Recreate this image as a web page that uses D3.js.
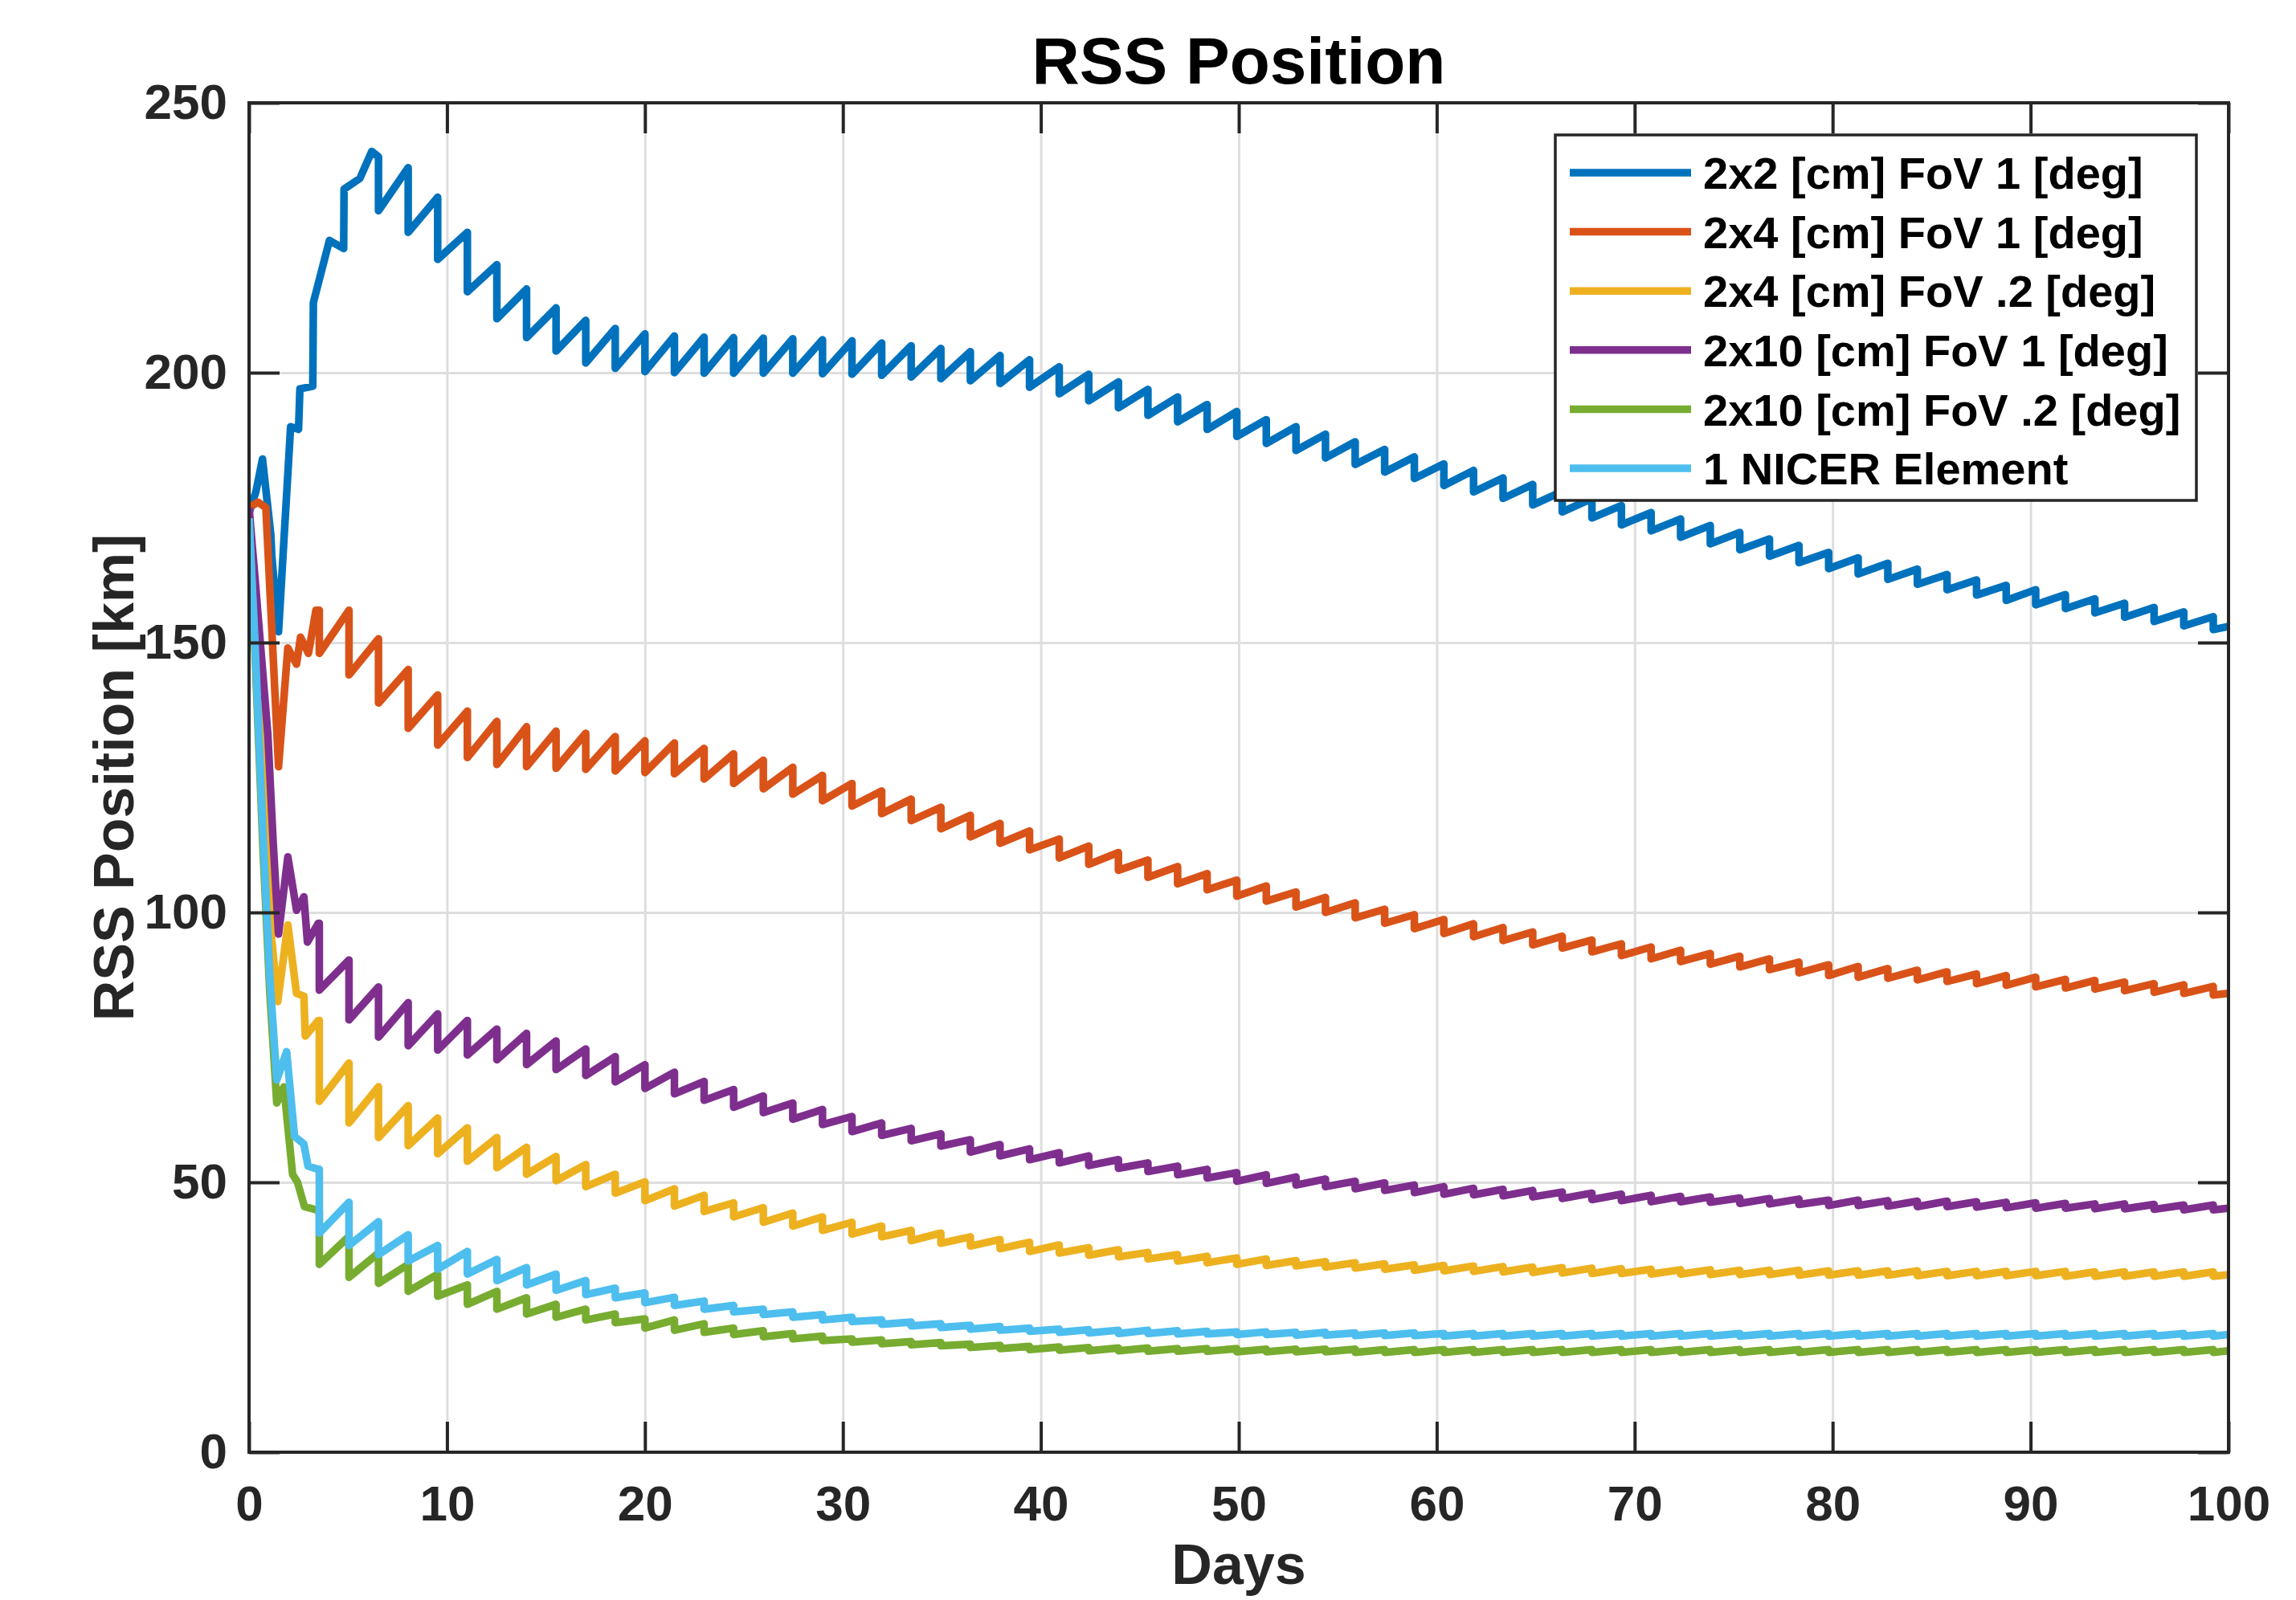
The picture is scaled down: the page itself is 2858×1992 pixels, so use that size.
<!DOCTYPE html>
<html>
<head>
<meta charset="utf-8">
<script src="https://cdn.jsdelivr.net/npm/d3@7"></script>
<style>
  body { margin: 0; background: #fff; }
  svg { display: block; font-family: "Liberation Sans", Arial, Helvetica, sans-serif; font-weight: bold; }
</style>
</head>
<body>
<svg id="chart" width="2858" height="1992"></svg>
<script>
// days at which every filter gets its measurement update (the vertical jumps)
const updateDays = [3.55, 5.05, 6.54, 8.04, 9.53, 11.03, 12.52, 14.02, 15.51, 17.01, 18.50, 20.00,
  21.49, 22.99, 24.48, 25.98, 27.47, 28.97, 30.46, 31.96, 33.45, 34.95, 36.44, 37.94, 39.43, 40.93,
  42.42, 43.92, 45.41, 46.91, 48.40, 49.90, 51.39, 52.89, 54.38, 55.88, 57.37, 58.87, 60.36, 61.86,
  63.35, 64.85, 66.34, 67.84, 69.33, 70.83, 72.32, 73.82, 75.31, 76.81, 78.30, 79.80, 81.29, 82.79,
  84.28, 85.78, 87.27, 88.77, 90.26, 91.76, 93.25, 94.75, 96.24, 97.74, 99.23];

const seriesNames = ["2x2 [cm] FoV 1 [deg]", "2x4 [cm] FoV 1 [deg]", "2x4 [cm] FoV .2 [deg]",
  "2x10 [cm] FoV 1 [deg]", "2x10 [cm] FoV .2 [deg]", "1 NICER Element"];
const seriesColors = ["#0072BD", "#D95319", "#EDB120", "#7E2F8E", "#77AC30", "#4DBEEE"];

const xTicks = [0, 10, 20, 30, 40, 50, 60, 70, 80, 90, 100];
const yTicks = [0, 50, 100, 150, 200, 250];

// 2x2 FoV 1
const blueEarly = [[0,174],[0.35,178],[0.68,184],[1.1,170],[1.15,166],[1.49,152],[2.1,190],[2.5,189.5],
  [2.57,197],[3.22,197.5],[3.25,213],[4.06,224.5],[4.78,223],[4.8,234],[5.6,236],[6.2,241]];
const bluePre = [null, null, 240, 238, 232.5, 226, 220, 215.5, 212, 209.7, 208.2, 207.2,
  206.8, 206.6, 206.5, 206.4, 206.3, 206.1, 205.9, 205.5, 205, 204.5, 203.9, 203.2, 202.4, 201.1,
  199.7, 198.3, 196.9, 195.5, 194.1, 192.8, 191.3, 190, 188.6, 187.2, 185.8, 184.4, 183.1, 181.9,
  180.5, 179.3, 178, 176.7, 175.4, 174.1, 172.9, 171.7, 170.4, 169.2, 168, 166.7, 165.7, 164.7,
  163.6, 162.6, 161.6, 160.6, 159.8, 158.9, 158.1, 157.3, 156.5, 155.7, 154.8];
const bluePost = [null, null, 230, 226, 221, 215, 210, 206.5, 204, 201.8, 200.8, 200.2,
  200, 199.9, 199.9, 199.9, 199.9, 199.8, 199.7, 199.5, 199.2, 198.9, 198.5, 198, 197.3, 196.1,
  194.8, 193.5, 192.1, 190.9, 189.5, 188.2, 186.9, 185.6, 184.2, 183, 181.6, 180.4, 179.1, 177.9,
  176.7, 175.5, 174.2, 173.1, 171.8, 170.7, 169.5, 168.3, 167.2, 166, 164.8, 163.7, 162.7, 161.7,
  160.8, 159.8, 158.8, 157.8, 157, 156.3, 155.5, 154.7, 153.9, 153.1, 152.4];
const blueEnd = 153;

// 2x4 FoV 1
const orangeEarly = [[0,175],[0.45,176],[0.85,175],[1.49,127],[1.96,149],[2.4,146],[2.6,151],[3.0,148],[3.38,156]];
const orangePre = [156, 156, 150.7, 145, 140.3, 137.3, 135.4, 134.4, 133.6, 133.2, 132.6, 131.8,
  131.4, 130.4, 129.4, 128.2, 126.9, 125.4, 123.9, 122.5, 121, 119.5, 118, 116.5, 115.1, 113.6,
  112.3, 111.1, 109.7, 108.5, 107.2, 106, 104.9, 103.8, 102.8, 101.8, 100.6, 99.6, 98.7, 97.9,
  97.2, 96.4, 95.6, 94.9, 94.2, 93.6, 93, 92.4, 91.9, 91.4, 90.8, 90.3, 90, 89.6,
  89.3, 89, 88.6, 88.3, 88, 87.6, 87.4, 87.1, 86.8, 86.6, 86.3];
const orangePost = [148, 144, 138.8, 134.1, 131, 128.7, 127.4, 127, 126.7, 126.5, 126.2, 125.9,
  125.7, 124.7, 123.9, 122.9, 121.9, 120.7, 119.7, 118.3, 117, 115.5, 114, 112.8, 111.6, 110.1,
  108.9, 107.8, 106.5, 105.3, 104.2, 103, 102.1, 101, 100, 99, 98, 97, 96.1, 95.5,
  94.8, 94, 93.4, 92.7, 92, 91.4, 90.9, 90.4, 89.9, 89.4, 88.8, 88.3, 88, 87.8,
  87.5, 87.2, 86.8, 86.5, 86.2, 86, 85.8, 85.5, 85.2, 85, 84.7];
const orangeEnd = 85;

// 2x4 FoV .2
const yellowEarly = [[0,175],[0.35,150],[0.8,118],[1.15,95],[1.45,83.5],[1.96,97.7],[2.4,85],[2.77,84.5],[2.84,77.1],[3.5,80]];
const yellowPre = [80, 72.1, 67.7, 64.2, 61.9, 60.1, 58.3, 56.5, 54.8, 53.3, 51.5, 50.1,
  48.8, 47.6, 46.2, 45.3, 44.3, 43.6, 42.6, 41.9, 41.1, 40.6, 39.9, 39.4, 38.9, 38.4,
  37.9, 37.5, 37, 36.6, 36.3, 36, 35.8, 35.5, 35.3, 35.1, 34.9, 34.7, 34.6, 34.5,
  34.4, 34.3, 34.2, 34.1, 34, 33.9, 33.8, 33.8, 33.7, 33.7, 33.7, 33.6, 33.6, 33.6,
  33.6, 33.5, 33.5, 33.5, 33.5, 33.5, 33.4, 33.4, 33.4, 33.4, 33.4];
const yellowPost = [65, 61, 58.3, 56.8, 55.3, 53.9, 52.7, 51.5, 50.3, 49.2, 48, 46.6,
  45.6, 44.6, 43.6, 42.6, 41.9, 41.1, 40.4, 39.9, 39.2, 38.7, 38.2, 37.7, 37.2, 36.9,
  36.5, 36.2, 35.8, 35.4, 35.1, 34.8, 34.6, 34.5, 34.3, 34.1, 33.9, 33.7, 33.6, 33.5,
  33.4, 33.3, 33.2, 33.1, 33.1, 33, 33, 32.9, 32.9, 32.9, 32.8, 32.8, 32.8, 32.8,
  32.7, 32.7, 32.7, 32.7, 32.7, 32.6, 32.6, 32.6, 32.6, 32.6, 32.6];
const yellowEnd = 32.9;

// 2x10 FoV 1
const purpleEarly = [[0,175],[0.3,162],[0.95,133],[1.22,113],[1.49,96],[1.96,110.3],[2.4,100.4],[2.77,102.9],[2.95,94.5],[3.5,98]];
const purplePre = [98, 91.2, 86.2, 83.3, 81.2, 80, 78.4, 77.6, 76.2, 74.7, 73.3, 71.8,
  70.4, 68.7, 67.2, 66, 64.7, 63.5, 62.2, 61, 60, 59, 57.9, 57, 56.2, 55.5,
  54.9, 54.2, 53.6, 53, 52.4, 51.8, 51.4, 51, 50.6, 50.2, 49.9, 49.5, 49.2, 48.9,
  48.7, 48.5, 48.2, 48, 47.8, 47.6, 47.4, 47.3, 47.1, 47, 46.9, 46.7, 46.7, 46.6,
  46.5, 46.5, 46.4, 46.3, 46.2, 46.1, 46, 46, 45.9, 45.8, 45.8];
const purplePost = [85.6, 80.1, 76.9, 75.3, 74.5, 73.6, 72.7, 71.8, 70.9, 69.8, 68.6, 67.4,
  66.4, 65.2, 63.9, 62.9, 61.7, 60.7, 59.4, 58.7, 57.7, 56.7, 55.6, 54.9, 54.2, 53.6,
  53.1, 52.6, 52, 51.4, 50.8, 50.2, 49.8, 49.5, 49.2, 48.8, 48.5, 48.1, 47.8, 47.7,
  47.5, 47.3, 47, 46.8, 46.6, 46.4, 46.4, 46.3, 46.1, 46, 45.9, 45.7, 45.7, 45.6,
  45.5, 45.5, 45.4, 45.3, 45.2, 45.2, 45.1, 45.1, 45, 44.9, 44.9];
const purpleEnd = 45.2;

// 2x10 FoV .2
const greenEarly = [[0,173],[0.3,148],[0.7,112],[1.05,85],[1.4,64.7],[1.76,67.7],[2.2,51.5],[2.45,50],[2.8,45.5],[3.5,44.8]];
const greenPre = [44.8, 40, 36.9, 34.8, 33, 31, 29.8, 28.6, 27.4, 26.5, 25.6, 24.7,
  24.5, 23.8, 23, 22.5, 22, 21.5, 21, 20.8, 20.5, 20.3, 20, 19.8, 19.6, 19.5,
  19.4, 19.3, 19.3, 19.2, 19.2, 19.2, 19.1, 19.1, 19.1, 19.1, 19, 19, 19, 19,
  19, 19, 19, 19, 19, 19, 19, 19, 19, 19, 19, 19, 19, 19,
  19, 19, 19, 19, 19, 19, 19, 19, 19, 19, 19];
const greenPost = [34.8, 32.4, 31.3, 29.8, 28.9, 27.4, 26.5, 25.6, 25, 24.5, 24, 23,
  22.6, 22.2, 21.8, 21.4, 21, 20.7, 20.4, 20.1, 19.9, 19.7, 19.4, 19.2, 19, 18.9,
  18.8, 18.8, 18.7, 18.7, 18.7, 18.6, 18.6, 18.6, 18.6, 18.5, 18.5, 18.5, 18.5, 18.5,
  18.5, 18.5, 18.5, 18.5, 18.5, 18.5, 18.5, 18.5, 18.5, 18.5, 18.5, 18.5, 18.5, 18.5,
  18.5, 18.5, 18.5, 18.5, 18.5, 18.5, 18.5, 18.5, 18.5, 18.5, 18.5];
const greenEnd = 18.8;

// 1 NICER element
const cyanEarly = [[0,173],[0.3,150],[0.7,115],[1.05,88],[1.4,69],[1.9,74.2],[2.3,58.5],[2.77,57.1],[2.98,53],[3.5,52.4]];
const cyanPre = [52.4, 46.3, 42.7, 40.3, 38.3, 37.2, 35.7, 34.2, 33, 31.8, 30.4, 29.5,
  28.7, 28, 27.2, 26.5, 26, 25.5, 25, 24.5, 24.1, 23.8, 23.5, 23.3, 23, 22.8,
  22.7, 22.6, 22.6, 22.5, 22.4, 22.3, 22.3, 22.2, 22.2, 22.1, 22.1, 22.1, 22, 22,
  22, 22, 22, 22, 22, 22, 22, 22, 22, 22, 22, 22, 22, 22,
  22, 22, 22, 22, 22, 22, 22, 22, 22, 22, 22];
const cyanPost = [40.6, 38.3, 36.6, 35.4, 33.9, 33, 31.8, 31, 30, 29.2, 28.6, 27.7,
  27.2, 26.5, 26, 25.5, 25, 24.5, 24.2, 23.7, 23.4, 23.1, 22.8, 22.6, 22.4, 22.2,
  22.1, 22, 22, 21.9, 21.9, 21.8, 21.8, 21.7, 21.7, 21.6, 21.6, 21.6, 21.5, 21.5,
  21.5, 21.5, 21.5, 21.5, 21.5, 21.5, 21.5, 21.5, 21.5, 21.5, 21.5, 21.5, 21.5, 21.5,
  21.5, 21.5, 21.5, 21.5, 21.5, 21.5, 21.5, 21.5, 21.5, 21.5, 21.5];
const cyanEnd = 21.8;

const series = [
  {early: blueEarly, pre: bluePre, post: bluePost, end: blueEnd},
  {early: orangeEarly, pre: orangePre, post: orangePost, end: orangeEnd},
  {early: yellowEarly, pre: yellowPre, post: yellowPost, end: yellowEnd},
  {early: purpleEarly, pre: purplePre, post: purplePost, end: purpleEnd},
  {early: greenEarly, pre: greenPre, post: greenPost, end: greenEnd},
  {early: cyanEarly, pre: cyanPre, post: cyanPost, end: cyanEnd}
];
series.forEach((s, i) => { s.name = seriesNames[i]; s.color = seriesColors[i]; });

function buildPoints(s) {
  const pts = s.early.map(p => ({day: p[0], km: p[1]}));
  updateDays.forEach((d, i) => {
    if (s.pre[i] == null) return;
    pts.push({day: d, km: s.pre[i]});
    pts.push({day: d, km: s.post[i]});
  });
  pts.push({day: 100, km: s.end});
  return pts;
}

const plotLeft = 310, plotRight = 2774, plotTop = 128, plotBottom = 1808;
const axisColor = "#262626";

const svg = d3.select("#chart");
svg.append("rect").attr("width", 2858).attr("height", 1992).attr("fill", "#fff");

const x = d3.scaleLinear().domain([0, 100]).range([plotLeft, plotRight]);
const y = d3.scaleLinear().domain([0, 250]).range([plotBottom, plotTop]);

// grid
svg.append("g")
  .attr("transform", `translate(0,${plotBottom})`)
  .call(d3.axisBottom(x).tickValues(xTicks.slice(1, -1)).tickSize(-(plotBottom - plotTop)).tickFormat(""))
  .call(g => g.select(".domain").remove())
  .selectAll("line").attr("stroke", "#dedede").attr("stroke-width", 3);
svg.append("g")
  .attr("transform", `translate(${plotLeft},0)`)
  .call(d3.axisLeft(y).tickValues(yTicks.slice(1, -1)).tickSize(-(plotRight - plotLeft)).tickFormat(""))
  .call(g => g.select(".domain").remove())
  .selectAll("line").attr("stroke", "#dedede").attr("stroke-width", 3);

// lines
svg.append("clipPath").attr("id", "plotclip")
  .append("rect").attr("x", plotLeft).attr("y", plotTop)
  .attr("width", plotRight - plotLeft).attr("height", plotBottom - plotTop);

const line = d3.line().x(d => x(d.day)).y(d => y(d.km));

svg.append("g").attr("clip-path", "url(#plotclip)")
  .selectAll("path")
  .data(series)
  .enter()
  .append("path")
    .attr("d", d => line(buildPoints(d)))
    .attr("fill", "none")
    .attr("stroke", d => d.color)
    .attr("stroke-width", 9.5)
    .attr("stroke-linejoin", "round");

// axes with inward ticks on all four sides
const tickLen = 38;
function styleAxis(g) {
  g.select(".domain").remove();
  g.selectAll(".tick line").attr("stroke", axisColor).attr("stroke-width", 4);
  g.selectAll(".tick text").attr("fill", axisColor).attr("font-size", 62).attr("font-weight", "bold")
    .attr("font-family", "'Liberation Sans', Arial, Helvetica, sans-serif");
}
svg.append("g").attr("transform", `translate(0,${plotBottom})`)
  .call(d3.axisBottom(x).tickValues(xTicks).tickSize(-tickLen).tickPadding(41)).call(styleAxis);
svg.append("g").attr("transform", `translate(0,${plotTop})`)
  .call(d3.axisTop(x).tickValues(xTicks).tickSize(-tickLen).tickFormat("")).call(styleAxis);
svg.append("g").attr("transform", `translate(${plotLeft},0)`)
  .call(d3.axisLeft(y).tickValues(yTicks).tickSize(-tickLen).tickPadding(27)).call(styleAxis);
svg.append("g").attr("transform", `translate(${plotRight},0)`)
  .call(d3.axisRight(y).tickValues(yTicks).tickSize(-tickLen).tickFormat("")).call(styleAxis);

svg.append("rect")
  .attr("x", plotLeft).attr("y", plotTop)
  .attr("width", plotRight - plotLeft).attr("height", plotBottom - plotTop)
  .attr("fill", "none").attr("stroke", axisColor).attr("stroke-width", 4);

// titles
svg.append("text").attr("x", (plotLeft + plotRight) / 2).attr("y", 104)
  .attr("text-anchor", "middle").attr("font-size", 82).attr("fill", "#000").text("RSS Position");
svg.append("text").attr("x", (plotLeft + plotRight) / 2).attr("y", 1972)
  .attr("text-anchor", "middle").attr("font-size", 70).attr("fill", axisColor).text("Days");
svg.append("text").attr("transform", `translate(166,${(plotTop + plotBottom) / 2}) rotate(-90)`)
  .attr("text-anchor", "middle").attr("font-size", 70).attr("fill", axisColor).text("RSS Position [km]");

// legend
const legend = svg.append("g");
legend.append("rect").attr("x", 1936).attr("y", 168).attr("width", 798).attr("height", 455)
  .attr("fill", "#fff").attr("stroke", axisColor).attr("stroke-width", 3.5);
const rows = legend.selectAll("g.row").data(series).enter().append("g")
  .attr("class", "row")
  .attr("transform", (d, i) => `translate(0,${215 + i * 73.6})`);
rows.append("line").attr("x1", 1954).attr("x2", 2105).attr("y1", 0).attr("y2", 0)
  .attr("stroke", d => d.color).attr("stroke-width", 9.5);
rows.append("text").attr("x", 2120).attr("y", 0).attr("dy", "0.36em")
  .attr("font-size", 56).attr("fill", "#000").text(d => d.name);
</script>
</body>
</html>
